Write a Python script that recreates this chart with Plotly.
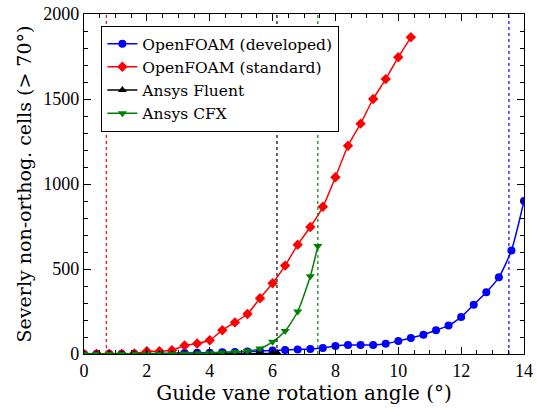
import plotly.graph_objects as go

step = 0.4
x_dev = [round(i * step, 2) for i in range(36)]
y_dev = [0, 1, 1, 2, 2, 3, 4, 5, 6, 7,
         8, 10, 12, 14, 17, 20, 23, 27, 30, 36,
         47, 53, 53, 53, 60, 76, 94, 113, 140, 167,
         218, 290, 363, 451, 609, 900]

x_std = [round(i * step, 2) for i in range(27)]
y_std = [0, 0, 1, 1, 3, 16, 16, 22, 50, 62, 81, 140, 186, 235, 328, 416,
         520, 643, 747, 866, 1040, 1225, 1355, 1500, 1617, 1746, 1863]

x_flu = [round(i * step, 2) for i in range(16)] + [6.16]
y_flu = [0, 0, 0, 0, 0, 0, 0, 0, 0, 1, 1, 1, 2, 2, 3, 4, 5]

x_cfx = [round(i * step, 2) for i in range(19)] + [7.44]
y_cfx = [0, 0, 0, 0, 0, 0, 1, 2, 3, 4, 6, 9, 12, 17, 32, 72, 135, 250, 457, 635]

names = ["OpenFOAM (developed)", "OpenFOAM (standard)", "Ansys Fluent", "Ansys CFX"]
colors = ["#0000ff", "#ff0000", "#000000", "#008000"]
symbols = ["circle", "diamond", "triangle-up", "triangle-down"]
limits = [13.52, 0.71, 6.14, 7.44]  # critical angles (dotted lines)

series = [(x_dev, y_dev), (x_std, y_std), (x_flu, y_flu), (x_cfx, y_cfx)]

fig = go.Figure()
TICKFONT = "Liberation Serif"
TEXTFONT = "DejaVu Serif"

for (xs, ys), n, c, s in zip(series, names, colors, symbols):
    fig.add_trace(go.Scatter(
        x=xs, y=ys, name=n, mode="lines+markers",
        line=dict(color=c, width=1.5, shape="spline", smoothing=0.6),
        marker=dict(symbol=s, size=8, color=c, line=dict(width=0)),
    ))

for xv, c in zip(limits, colors):
    fig.add_trace(go.Scatter(
        x=[xv, xv], y=[0, 2000], mode="lines", showlegend=False,
        line=dict(color=c, width=1.2, dash="dot"), hoverinfo="skip",
    ))

axis_common = dict(
    showline=True, linecolor="black", linewidth=1.2, mirror="allticks",
    ticks="inside", ticklen=7, tickwidth=1, tickcolor="black",
    showgrid=False, zeroline=False, automargin=False,
    tickfont=dict(family=TICKFONT, size=18, color="black"),
)

fig.update_xaxes(
    range=[0, 14], dtick=2, tick0=0,
    minor=dict(dtick=0.5, ticks="inside", ticklen=4, tickcolor="black", showgrid=False),
    title=dict(text="Guide vane rotation angle (°)", font=dict(family=TEXTFONT, size=20, color="black"),
               standoff=0),
    **axis_common,
)
fig.update_yaxes(
    range=[0, 2000], dtick=500, tick0=0,
    minor=dict(dtick=100, ticks="inside", ticklen=4, tickcolor="black", showgrid=False),
    title=dict(text="Severly non-orthog. cells (> 70°)", font=dict(family=TEXTFONT, size=19, color="black"),
               standoff=6),
    **axis_common,
)

fig.update_layout(
    width=537, height=409,
    margin=dict(l=84, r=13, t=14, b=55),
    paper_bgcolor="white", plot_bgcolor="white",
    font=dict(family=TEXTFONT, color="black"),
    legend=dict(
        x=0.039, y=0.965, xanchor="left", yanchor="top",
        bgcolor="white", bordercolor="black", borderwidth=1.2,
        font=dict(family=TEXTFONT, size=15.5, color="black"),
        tracegroupgap=0,
    ),
    showlegend=True,
)

fig.write_html("out.html")
